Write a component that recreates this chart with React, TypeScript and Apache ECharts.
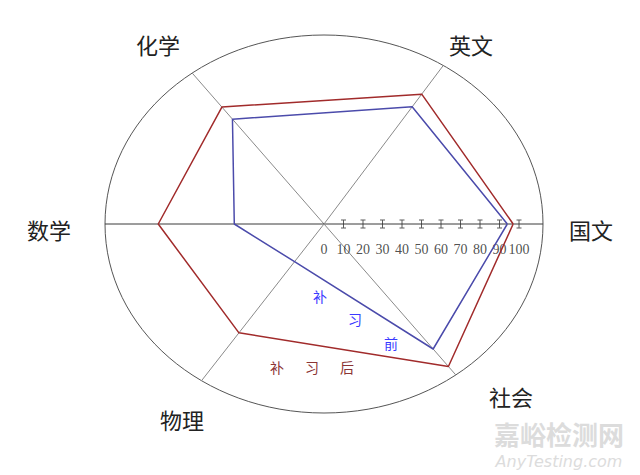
import { useEffect, useRef } from 'react';
import * as echarts from 'echarts';

// ── Data ──
const SUBJECTS = ['国文', '英文', '化学', '数学', '物理', '社会'];
const AXIS_ANGLES = [0, 57, 127, 180, 236, 307];
const BEFORE = [94, 83, 78, 46, 27, 93];
const AFTER = [97, 92, 87, 85, 78, 106];
const TICK_VALUES = [10, 20, 30, 40, 50, 60, 70, 80, 90, 100];
const TICK_LABELS = [0, 10, 20, 30, 40, 50, 60, 70, 80, 90, 100];
const OUTER = 112.3;

// ── Layout ──
const GRID_LEFT = 105;
const GRID_TOP = 35;
const GRID_W = 438;
const GRID_H = 378;
const CX = GRID_LEFT + GRID_W / 2;
const CY = GRID_TOP + GRID_H / 2;
const NAME_POS: [number, number][] = [
  [591, 229], [471, 44], [158, 44], [49, 229], [182, 419], [511, 396],
];
const CJK = '"Noto Sans CJK SC", "Noto Sans", sans-serif';
const SERIF = '"Liberation Serif", "DejaVu Serif", serif';
const BLUE_LINE = '#4b4bab';
const RED_LINE = '#a12b2b';
const I_BEAM = 'path://M0,0h5v1h-2v7h2v1h-5v-1h2v-7h-2z';

function polar(v: number, deg: number): [number, number] {
  const a = (deg * Math.PI) / 180;
  return [v * Math.cos(a), v * Math.sin(a)];
}

function polygon(values: number[]) {
  const pts = values.map((v, i) => polar(v, AXIS_ANGLES[i]));
  return [...pts, pts[0]];
}

export default function App() {
  const ref = useRef<HTMLDivElement>(null);

  useEffect(() => {
    document.body.style.margin = '0';
    if (!ref.current) return;
    const chart = echarts.init(ref.current, undefined, { renderer: 'svg' });

    const spokes = AXIS_ANGLES.map((deg, i) => ({
      type: 'line',
      data: [[0, 0], polar(OUTER, deg)],
      symbol: 'none',
      silent: true,
      z: 1,
      lineStyle: { color: deg % 180 === 0 ? '#3a3a3a' : '#8a8a8a', width: 1 },
      name: 'spoke' + i,
    }));

    const nameTexts = SUBJECTS.map((s, i) => ({
      type: 'text',
      x: NAME_POS[i][0],
      y: NAME_POS[i][1],
      style: {
        text: s,
        font: `22px ${CJK}`,
        fill: '#222',
        align: 'center',
        verticalAlign: 'middle',
      },
    }));

    const charText = (t: string, x: number, y: number, color: string) => ({
      type: 'text',
      x,
      y,
      style: { text: t, font: `14px ${CJK}`, fill: color, align: 'center', verticalAlign: 'middle' },
    });

    chart.setOption({
      animation: false,
      backgroundColor: '#fff',
      grid: { left: GRID_LEFT, top: GRID_TOP, width: GRID_W, height: GRID_H },
      xAxis: { type: 'value', min: -OUTER, max: OUTER, show: false },
      yAxis: { type: 'value', min: -OUTER, max: OUTER, show: false },
      graphic: [
        {
          type: 'ellipse',
          z: 0,
          shape: { cx: CX, cy: CY, rx: GRID_W / 2, ry: GRID_H / 2 },
          style: { fill: 'none', stroke: '#555', lineWidth: 1 },
        },
        ...nameTexts,
        charText('补', 320, 296, '#3a3aff'),
        charText('习', 355, 319, '#3a3aff'),
        charText('前', 391, 343, '#3a3aff'),
        charText('补', 277, 367, '#8b3434'),
        charText('习', 312, 367, '#8b3434'),
        charText('后', 347, 367, '#8b3434'),
        {
          type: 'text',
          x: 559,
          y: 433,
          style: {
            text: '嘉峪检测网',
            font: `bold 26px ${CJK}`,
            fill: '#dcdcdc',
            align: 'center',
            verticalAlign: 'middle',
          },
        },
        {
          type: 'text',
          x: 559,
          y: 461,
          style: {
            text: 'AnyTesting.com',
            font: 'italic 16px "DejaVu Sans", sans-serif',
            fill: '#dcdcdc',
            align: 'center',
            verticalAlign: 'middle',
          },
        },
      ],
      series: [
        ...spokes,
        {
          name: '补习前',
          type: 'line',
          data: polygon(BEFORE),
          symbol: 'none',
          z: 3,
          lineStyle: { color: BLUE_LINE, width: 1.5 },
        },
        {
          name: '补习后',
          type: 'line',
          data: polygon(AFTER),
          symbol: 'none',
          z: 4,
          lineStyle: { color: RED_LINE, width: 1.5 },
        },
        {
          name: 'ticks',
          type: 'scatter',
          data: TICK_VALUES.map(v => [v, 0]),
          symbol: I_BEAM,
          symbolSize: [5, 9],
          z: 2,
          itemStyle: { color: '#333' },
        },
        {
          name: 'tickLabels',
          type: 'scatter',
          data: TICK_LABELS.map(v => [v, 0]),
          symbolSize: 0,
          z: 2,
          label: {
            show: true,
            position: 'bottom',
            distance: 18,
            formatter: (p: any) => String(p.value[0]),
            fontFamily: SERIF,
            fontSize: 14,
            color: '#222',
          },
        },
      ],
    });

    return () => chart.dispose();
  }, []);

  return <div ref={ref} style={{ width: 640, height: 475 }} />;
}
